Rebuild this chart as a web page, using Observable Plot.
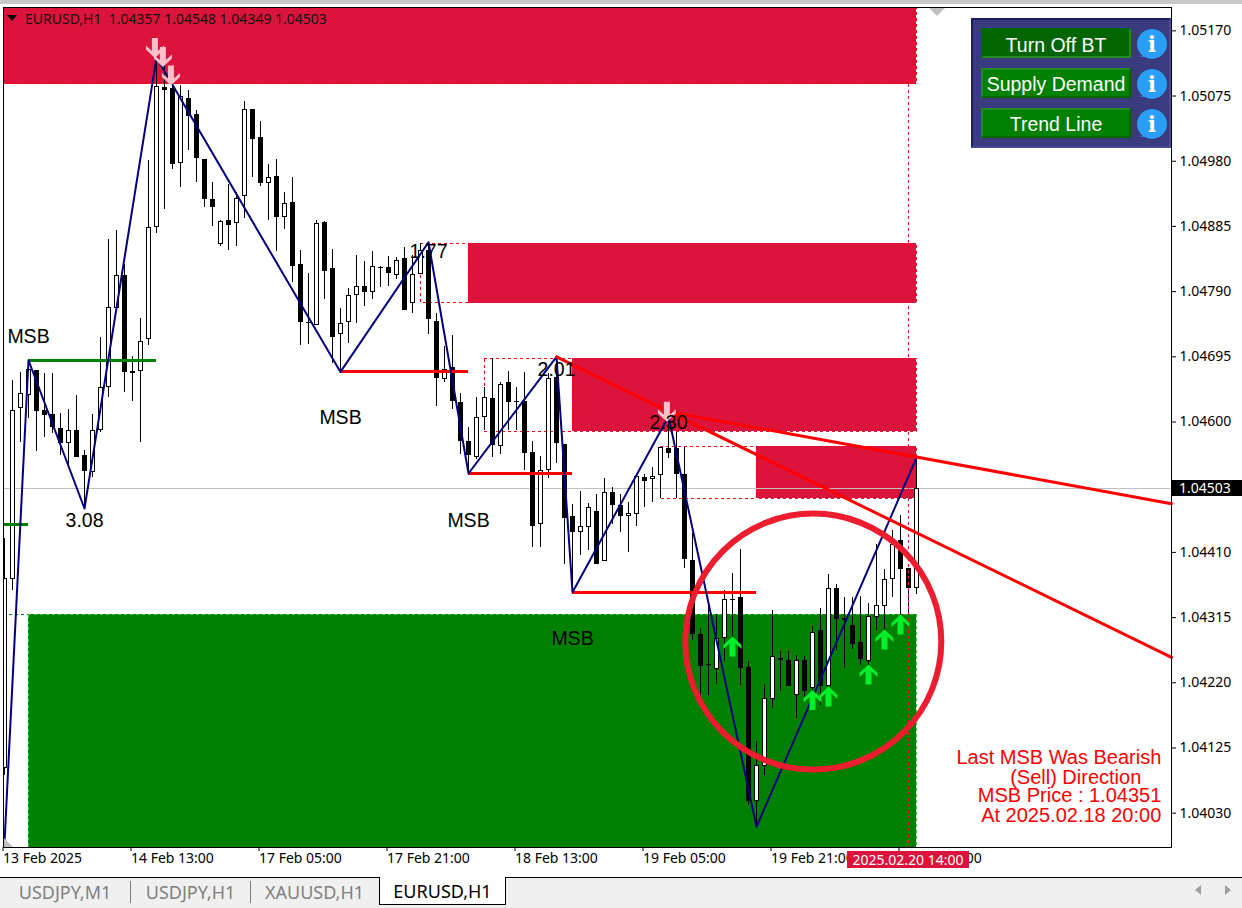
<!DOCTYPE html>
<html><head><meta charset="utf-8">
<script src="https://cdn.jsdelivr.net/npm/d3@7"></script>
<script src="https://cdn.jsdelivr.net/npm/@observablehq/plot@0.6"></script>
<style>
html,body{margin:0;padding:0;background:#fff;width:1242px;height:908px;overflow:hidden}
#wrap{position:relative;width:1242px;height:908px;font-family:"Noto Sans",sans-serif}
#wrap svg{display:block}
.abs{position:absolute}
.btn{position:absolute;left:10px;width:150px;height:30px;box-sizing:border-box;color:#fff;font:19.5px/29px "Liberation Sans",sans-serif;text-align:center;background:#008000;border-top:2px solid #228b22;border-left:2px solid #228b22;border-bottom:2px solid #006400;border-right:2px solid #006400}
.btn.on{background:#006400;border-color:#006400 #228b22 #228b22 #006400;line-height:31px}
.tab{position:absolute;top:0;height:28px;font-size:18px;line-height:28px;color:#808080;text-align:center}
</style></head><body><div id="wrap"></div>
<script>
const opens=[1.04095,1.04370,1.04619,1.04638,1.04675,1.04617,1.04611,1.04591,1.04568,1.04588,1.04551,1.04527,1.04587,1.04651,1.04766,1.04813,1.04670,1.04674,1.04720,1.04884,1.05088,1.05086,1.04977,1.05072,1.05048,1.04982,1.04924,1.04858,1.04893,1.04889,1.04929,1.05055,1.05014,1.04948,1.04958,1.04898,1.04920,1.04830,1.04745,1.04741,1.04890,1.04823,1.04727,1.04745,1.04785,1.04797,1.04789,1.04825,1.04825,1.04814,1.04838,1.04773,1.04815,1.04850,1.04746,1.04662,1.04679,1.04628,1.04571,1.04549,1.04606,1.04634,1.04565,1.04657,1.04630,1.04630,1.04555,1.04450,1.04530,1.04665,1.04567,1.04462,1.04439,1.04447,1.04469,1.04397,1.04497,1.04478,1.04463,1.04465,1.04519,1.04516,1.04522,1.04562,1.04562,1.04523,1.04398,1.04290,1.04247,1.04240,1.04284,1.04342,1.04344,1.04242,1.04047,1.04098,1.04195,1.04255,1.04253,1.04201,1.04252,1.04211,1.04296,1.04214,1.04358,1.04313,1.04303,1.04278,1.04251,1.04315,1.04331,1.04370,1.04427,1.04386,1.04357];
const highs=[1.04430,1.04660,1.04672,1.04690,1.04675,1.04671,1.04670,1.04612,1.04618,1.04638,1.04559,1.04611,1.04723,1.04866,1.04879,1.04830,1.04695,1.04751,1.04981,1.05131,1.05119,1.05090,1.05090,1.05083,1.05054,1.04982,1.04949,1.04894,1.04946,1.04935,1.05067,1.05056,1.05038,1.04975,1.04983,1.04934,1.04956,1.04850,1.04816,1.04893,1.04892,1.04851,1.04766,1.04795,1.04842,1.04834,1.04848,1.04826,1.04841,1.04840,1.04854,1.04842,1.04860,1.04862,1.04758,1.04710,1.04726,1.04642,1.04592,1.04636,1.04651,1.04693,1.04658,1.04673,1.04651,1.04672,1.04571,1.04550,1.04671,1.04695,1.04567,1.04480,1.04499,1.04481,1.04495,1.04517,1.04505,1.04494,1.04482,1.04524,1.04523,1.04534,1.04563,1.04608,1.04585,1.04563,1.04437,1.04299,1.04332,1.04319,1.04354,1.04379,1.04414,1.04251,1.04134,1.04218,1.04325,1.04265,1.04265,1.04260,1.04258,1.04302,1.04328,1.04378,1.04363,1.04344,1.04345,1.04346,1.04335,1.04422,1.04385,1.04442,1.04464,1.04386,1.04548];
const lows=[1.04085,1.04354,1.04570,1.04605,1.04557,1.04578,1.04583,1.04551,1.04534,1.04549,1.04474,1.04519,1.04584,1.04636,1.04762,1.04643,1.04630,1.04570,1.04711,1.04874,1.04910,1.04968,1.04942,1.04995,1.04949,1.04913,1.04885,1.04856,1.04850,1.04856,1.04896,1.04957,1.04943,1.04893,1.04849,1.04880,1.04804,1.04711,1.04713,1.04740,1.04779,1.04685,1.04673,1.04714,1.04744,1.04768,1.04779,1.04796,1.04797,1.04807,1.04762,1.04758,1.04815,1.04728,1.04622,1.04658,1.04618,1.04553,1.04525,1.04546,1.04587,1.04549,1.04553,1.04587,1.04587,1.04529,1.04417,1.04417,1.04517,1.04540,1.04392,1.04352,1.04405,1.04413,1.04393,1.04397,1.04450,1.04439,1.04410,1.04448,1.04476,1.04483,1.04488,1.04547,1.04488,1.04387,1.04282,1.04199,1.04201,1.04217,1.04251,1.04281,1.04216,1.04041,1.04010,1.04085,1.04183,1.04208,1.04214,1.04168,1.04199,1.04194,1.04187,1.04214,1.04267,1.04241,1.04268,1.04245,1.04245,1.04296,1.04296,1.04345,1.04318,1.04322,1.04349];
const closes=[1.04372,1.04617,1.04641,1.04676,1.04616,1.04609,1.04592,1.04568,1.04587,1.04549,1.04528,1.04587,1.04651,1.04767,1.04814,1.04672,1.04674,1.04718,1.04884,1.05089,1.05083,1.04975,1.05074,1.05045,1.04984,1.04924,1.04913,1.04892,1.04886,1.04925,1.05055,1.05012,1.04948,1.04956,1.04898,1.04919,1.04827,1.04745,1.04743,1.04889,1.04820,1.04723,1.04744,1.04784,1.04798,1.04788,1.04826,1.04823,1.04817,1.04836,1.04762,1.04815,1.04850,1.04750,1.04664,1.04677,1.04630,1.04572,1.04551,1.04606,1.04635,1.04566,1.04654,1.04629,1.04628,1.04554,1.04448,1.04530,1.04664,1.04568,1.04460,1.04439,1.04448,1.04475,1.04393,1.04498,1.04478,1.04462,1.04466,1.04520,1.04514,1.04521,1.04563,1.04554,1.04523,1.04400,1.04290,1.04244,1.04245,1.04284,1.04341,1.04340,1.04241,1.04047,1.04099,1.04197,1.04258,1.04253,1.04214,1.04252,1.04208,1.04293,1.04214,1.04357,1.04312,1.04311,1.04276,1.04254,1.04316,1.04332,1.04371,1.04422,1.04385,1.04358,1.04503];

const priceTicks=[1.05170,1.05075,1.04980,1.04885,1.04790,1.04695,1.04600,1.04505,1.04410,1.04315,1.04220,1.04125,1.04030];
const timeTickBars=[0,16,32,48,64,80,96,112];
const timeTickLabels=["13 Feb 2025","14 Feb 13:00","17 Feb 05:00","17 Feb 21:00","18 Feb 13:00","19 Feb 05:00","19 Feb 21:00","20 Feb 13:00"];

const zigzagBars=[0,3,10,19,42,53,58,69,71,83,94,114];
const zigzagPrices=[1.03987,1.04690,1.04474,1.05131,1.04673,1.04862,1.04525,1.04695,1.04352,1.04608,1.04010,1.04548];

const lastBar=114, rightBar=145.875, leftBar=-0.125, priceLow=1.03980, priceHigh=1.05204;
const zones=[
 {x1:leftBar,x2:lastBar,hi:priceHigh,lo:1.05092,fill:"#dc143c",edge:"#ff0000"},
 {x1:58,x2:lastBar,hi:1.04860,lo:1.04773,fill:"#dc143c",edge:"#dc143c"},
 {x1:71,x2:lastBar,hi:1.04692,lo:1.04586,fill:"#dc143c",edge:"#dc143c"},
 {x1:94,x2:lastBar,hi:1.04564,lo:1.04488,fill:"#dc143c",edge:"#dc143c"},
 {x1:3,x2:lastBar,hi:1.04319,lo:priceLow,fill:"#008000",edge:"#32cd32"}];
const boxes=[
 {x1:52,x2:58,hi:1.04860,lo:1.04773},
 {x1:60,x2:71,hi:1.04692,lo:1.04586},
 {x1:82,x2:94,hi:1.04564,lo:1.04488}];
const greenLevels=[{x1:3,x2:19,p:1.04690},{x1:leftBar,x2:3,p:1.04451}];
const redLevels=[{x1:42,x2:58,p:1.04673},{x1:58,x2:71,p:1.04525},{x1:71,x2:94,p:1.04352}];
const trendA=[{x:69,p:1.04695},{x:rightBar,p:1.04257}];
const trendB=[{x:83,p:1.04615},{x:rightBar,p:1.04481}];
const labels=[
 {x:3,p:1.04725,t:"MSB"},{x:42,p:1.04607,t:"MSB"},{x:58,p:1.04458,t:"MSB"},{x:71,p:1.04285,t:"MSB"},
 {x:10,p:1.04458,t:"3.08"},{x:53,p:1.04849,t:"1.77"},{x:69,p:1.04678,t:"2.01"},{x:83,p:1.04601,t:"2.30"}];
const sellArrows=[{x:18.8,p:1.05145},{x:19.8,p:1.05132},{x:20.8,p:1.05105},{x:82.8,p:1.04615}];
const buyArrows=[{x:91,p:1.04273},{x:101,p:1.04195},{x:103,p:1.04200},{x:108,p:1.04232},{x:110,p:1.04283},{x:112,p:1.04305}];
const ring=[{x:101.1,p:1.04280}];
const notes=[
 {x:144.6,p:1.04111,t:"Last MSB Was Bearish"},
 {x:142.1,p:1.04082,t:"(Sell) Direction"},
 {x:144.6,p:1.04055,t:"MSB Price : 1.04351"},
 {x:144.6,p:1.04026,t:"At 2025.02.18 20:00"}];

const candles=opens.map((o,i)=>({i,o,h:highs[i],l:lows[i],c:closes[i],top:Math.max(o,closes[i]),bot:Math.min(o,closes[i]),up:closes[i]>=o}));
const arrowPts=[[0,-10],[9,-1.5],[9,2.5],[3,-3],[3,10],[-3,10],[-3,-3],[-9,2.5],[-9,-1.5]];
const arrow=s=>({draw(ctx){arrowPts.forEach(([a,b],k)=>k?ctx.lineTo(a,b*s):ctx.moveTo(a,b*s));ctx.closePath();}});
const crisp={shapeRendering:"crispEdges"};

const chart=Plot.plot({
 width:1242,height:877,marginLeft:3,marginRight:71,marginTop:7,marginBottom:30,
 style:{fontFamily:"Noto Sans",fontSize:"14px",background:"transparent",color:"black"},
 x:{type:"linear",domain:[leftBar,rightBar],range:[3,1171]},
 y:{type:"linear",domain:[priceLow,priceHigh],range:[847,7]},
 marks:[
  Plot.rect(zones,{x1:"x1",x2:"x2",y1:"lo",y2:"hi",fill:"fill",stroke:"edge",strokeDasharray:"3,3",clip:true,...crisp}),
  Plot.rect(boxes,{x1:"x1",x2:"x2",y1:"lo",y2:"hi",fill:"none",stroke:"#ff0000",strokeDasharray:"3,3",...crisp}),
  Plot.ruleY([1.04319],{x1:leftBar,x2:3,stroke:"#008000",strokeDasharray:"3,3",...crisp}),
  Plot.ruleY([closes[lastBar]],{stroke:"#c0c0c0",...crisp}),
  Plot.ruleX(candles,{x:"i",y1:"h",y2:"l",stroke:"black",strokeWidth:1,clip:true,...crisp}),
  Plot.ruleX(candles,{x:"i",y1:"top",y2:"bot",stroke:"black",strokeWidth:5,clip:true,...crisp}),
  Plot.ruleX(candles.filter(d=>d.up),{x:"i",y1:"top",y2:"bot",stroke:"white",strokeWidth:3,insetTop:1,insetBottom:1,clip:true,...crisp}),
  Plot.ruleX([113],{y1:1.05092,y2:priceLow,stroke:"#dc143c",strokeDasharray:"3,3",...crisp}),
  Plot.ruleY(greenLevels,{y:"p",x1:"x1",x2:"x2",stroke:"#008000",strokeWidth:3,...crisp}),
  Plot.ruleY(redLevels,{y:"p",x1:"x1",x2:"x2",stroke:"#ff0000",strokeWidth:3,...crisp}),
  Plot.line(zigzagBars.map((x,k)=>({x,p:zigzagPrices[k]})),{x:"x",y:"p",stroke:"#000080",strokeWidth:2,clip:true}),
  Plot.line(trendA,{x:"x",y:"p",stroke:"#ff0000",strokeWidth:3}),
  Plot.line(trendB,{x:"x",y:"p",stroke:"#ff0000",strokeWidth:3}),
  Plot.dot(ring,{x:"x",y:"p",r:128,fill:"none",stroke:"#ed1c2e",strokeWidth:6}),
  Plot.dot(sellArrows,{x:"x",y:"p",symbol:arrow(-1),fill:"#ffc0cb",stroke:"none"}),
  Plot.dot(buyArrows,{x:"x",y:"p",symbol:arrow(1),fill:"#00f02a",stroke:"none"}),
  Plot.text(labels,{x:"x",y:"p",text:"t",dy:1,fontSize:19.5,fontFamily:"Liberation Sans",fill:"black"}),
  Plot.text(notes,{x:"x",y:"p",text:"t",textAnchor:"end",fontSize:20,fontFamily:"Liberation Sans",fill:"#ff0000"}),
  Plot.frame({stroke:"black"}),
  Plot.axisY(priceTicks,{anchor:"right",label:null,tickSize:4,tickPadding:4,tickFormat:d3.format(".5f")}),
  Plot.axisX(timeTickBars,{anchor:"bottom",label:null,tickSize:4,tickPadding:2,dx:-1.5,textAnchor:"start",tickFormat:d=>timeTickLabels[timeTickBars.indexOf(d)]})
 ]
});
const wrap=document.getElementById("wrap");
wrap.appendChild(chart);

const info=(top)=>`<svg class="abs" style="left:165px;top:${top}px" width="32" height="32" viewBox="0 0 32 32"><path d="M4 28 Q7 27 8 25 L12 27 Z" fill="#2a9df4"/><circle cx="16" cy="15" r="15" fill="#2a9df4"/><text x="16" y="23" text-anchor="middle" font-family="DejaVu Serif" font-weight="bold" font-size="22" fill="#fff">i</text></svg>`;
const over=document.createElement("div");
over.innerHTML=`
<div class="abs" style="left:0;top:0;width:1242px;height:4px;background:#c8c8c8"></div>
<div class="abs" style="left:7px;top:15px;width:0;height:0;border-left:5px solid transparent;border-right:5px solid transparent;border-top:6px solid #000"></div>
<div class="abs" style="left:25px;top:9px;font-size:14px;line-height:19px;color:#111;white-space:pre">EURUSD,H1  1.04357 1.04548 1.04349 1.04503</div>
<div class="abs" style="left:929px;top:8px;width:0;height:0;border-left:8px solid transparent;border-right:8px solid transparent;border-top:8px solid #c0c0c0"></div>
<div class="abs" style="left:4px;top:838px;width:0;height:0;border-left:9px solid #c0c0c0;border-top:9px solid transparent"></div>
<div class="abs" style="left:971px;top:18px;width:200px;height:130px;box-sizing:border-box;background:#3a3a7e;border-top:2px solid #1c1c6a;border-left:2px solid #1c1c6a;border-right:2px solid #4a4a96;border-bottom:2px solid #4a4a96">
 <div style="position:absolute;left:-2px;top:-2px;width:200px;height:130px">
  <div class="btn on" style="top:10px">Turn Off BT</div>
  <div class="btn" style="top:50px">Supply Demand</div>
  <div class="btn" style="top:90px">Trend Line</div>
  ${info(11)}${info(51)}${info(91)}
 </div>
</div>
<div class="abs" style="left:1172px;top:480px;width:70px;height:16px;background:#000;color:#fff;font-size:14px;line-height:16px;padding-left:7px;box-sizing:border-box">1.04503</div>
<div class="abs" style="left:847px;top:851px;width:122px;height:17px;background:#dc143c;color:#fff;font-size:14px;line-height:17px;text-align:center">2025.02.20 14:00</div>
<div class="abs" style="left:0;top:877px;width:1242px;height:31px;background:#f0f0f0;border-top:1px solid #000;box-sizing:border-box">
 <div class="tab" style="left:0;width:130px">USDJPY,M1</div>
 <div class="abs" style="left:130px;top:3px;width:1px;height:22px;background:#808080"></div>
 <div class="tab" style="left:131px;width:119px">USDJPY,H1</div>
 <div class="abs" style="left:250px;top:3px;width:1px;height:22px;background:#808080"></div>
 <div class="tab" style="left:251px;width:127px">XAUUSD,H1</div>
 <div class="tab" style="left:379px;top:-1px;width:127px;height:28px;box-sizing:border-box;background:#fff;color:#000;border:1px solid #000;border-top:0;line-height:28px">EURUSD,H1</div>
 <div class="abs" style="left:1195px;top:7px;width:0;height:0;border-top:5px solid transparent;border-bottom:5px solid transparent;border-right:6px solid #a0a0a0"></div>
 <div class="abs" style="left:1225px;top:7px;width:0;height:0;border-top:5px solid transparent;border-bottom:5px solid transparent;border-left:6px solid #a0a0a0"></div>
</div>`;
wrap.appendChild(over);
</script></body></html>
